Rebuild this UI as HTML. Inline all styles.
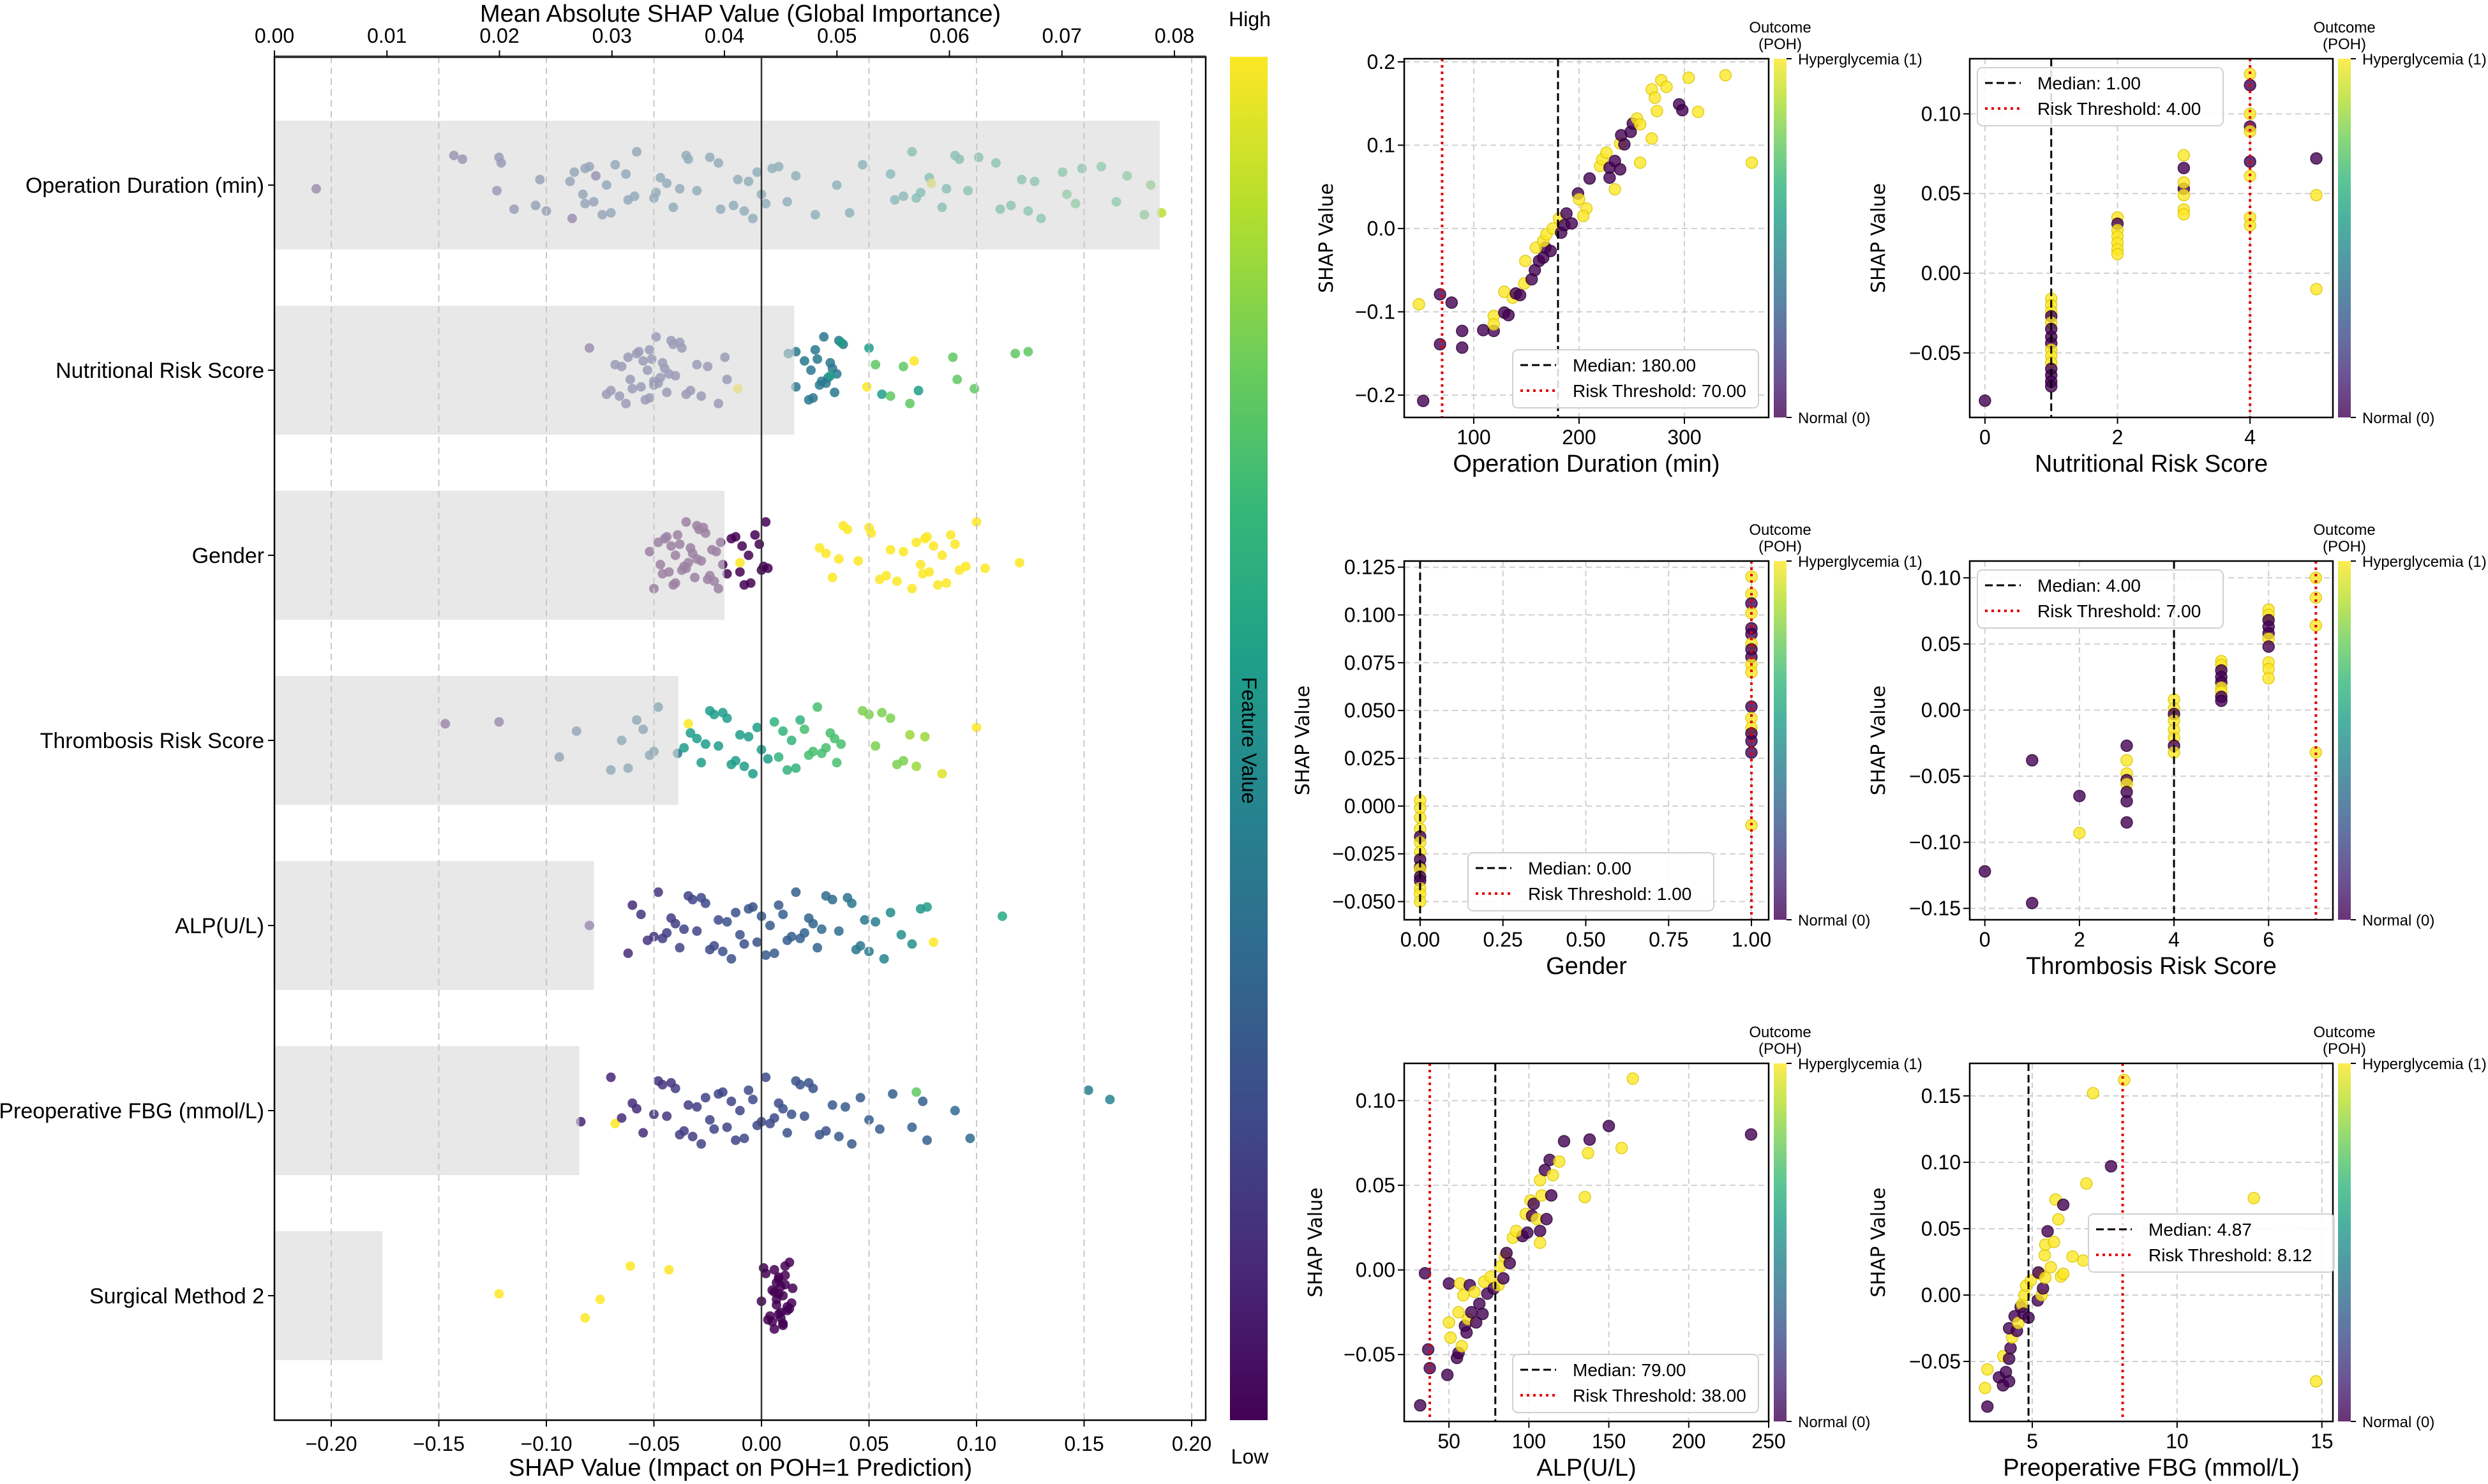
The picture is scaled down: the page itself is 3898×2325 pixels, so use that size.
<!DOCTYPE html>
<html><head><meta charset="utf-8">
<style>
html,body{margin:0;padding:0;background:#fff;}
svg{display:block;font-family:"Liberation Sans",Arial,sans-serif;}
</style></head>
<body>
<svg id="fig" width="3898" height="2325" viewBox="0 0 3898 2325" xmlns="http://www.w3.org/2000/svg">
<rect x="0" y="0" width="3898" height="2325" fill="#fff"/>
<g id="main"></g>
<g id="subs"></g>
</svg>
<script>
// ---------- MAIN CHART DATA ----------
const features = ["Operation Duration (min)","Nutritional Risk Score","Gender","Thrombosis Risk Score","ALP(U/L)","Preoperative FBG (mmol/L)","Surgical Method 2"];
const meanAbs = [0.0787,0.0462,0.0400,0.0359,0.0284,0.0271,0.0096];
const topTicks = [0.00,0.01,0.02,0.03,0.04,0.05,0.06,0.07,0.08];
const bottomTicks = [-0.20,-0.15,-0.10,-0.05,0.00,0.05,0.10,0.15,0.20];

const shap0 = [-0.207,-0.143,-0.139,-0.123,-0.122,-0.121,-0.115,-0.105,-0.103,-0.1,-0.089,-0.088,-0.087,-0.083,-0.082,-0.082,-0.08,-0.078,-0.077,-0.074,-0.072,-0.07,-0.068,-0.063,-0.062,-0.059,-0.058,-0.05,-0.049,-0.047,-0.044,-0.041,-0.038,-0.035,-0.034,-0.03,-0.024,-0.02,-0.019,-0.013,-0.011,-0.008,-0.006,-0.004,-0.002,0.0,0.002,0.005,0.008,0.012,0.016,0.025,0.035,0.041,0.047,0.06,0.062,0.066,0.07,0.072,0.074,0.078,0.079,0.084,0.086,0.09,0.092,0.096,0.101,0.109,0.111,0.116,0.121,0.124,0.127,0.13,0.14,0.142,0.146,0.149,0.158,0.165,0.17,0.178,0.181,0.186];
const fv0 = [0.1,0.15,0.15,0.2,0.2,0.2,0.22,0.25,0.25,0.25,0.28,0.1,0.3,0.3,0.3,0.3,0.3,0.3,0.12,0.3,0.32,0.32,0.32,0.32,0.32,0.33,0.33,0.33,0.35,0.35,0.35,0.35,0.35,0.35,0.36,0.36,0.36,0.36,0.36,0.37,0.38,0.38,0.38,0.38,0.38,0.4,0.4,0.4,0.4,0.42,0.42,0.42,0.45,0.45,0.45,0.5,0.5,0.5,0.55,0.55,0.55,0.55,0.95,0.55,0.55,0.55,0.55,0.6,0.6,0.6,0.6,0.6,0.62,0.62,0.62,0.62,0.65,0.7,0.7,0.65,0.68,0.68,0.7,0.72,0.75,0.9];

const shap1 = [-0.08,-0.072,-0.07,-0.068,-0.066,-0.065,-0.063,-0.062,-0.061,-0.06,-0.058,-0.057,-0.056,-0.055,-0.054,-0.053,-0.052,-0.052,-0.051,-0.05,-0.05,-0.049,-0.048,-0.047,-0.046,-0.045,-0.044,-0.043,-0.042,-0.041,-0.04,-0.038,-0.037,-0.035,-0.033,-0.03,-0.028,-0.025,-0.02,-0.017,-0.016,-0.011,0.0125,0.016,0.016,0.02,0.022,0.023,0.024,0.025,0.026,0.027,0.028,0.029,0.03,0.031,0.032,0.033,0.034,0.035,0.036,0.038,0.032,0.037,0.05,0.056,0.073,0.053,0.06,0.066,0.069,0.089,0.091,0.099,0.118,0.124,0.049,0.071];
const fv1 = [0.1,0.2,0.2,0.2,0.2,0.2,0.2,0.2,0.2,0.2,0.2,0.2,0.2,0.2,0.2,0.2,0.2,0.2,0.2,0.2,0.2,0.2,0.2,0.2,0.2,0.2,0.2,0.2,0.2,0.2,0.2,0.2,0.2,0.2,0.2,0.2,0.2,0.2,0.2,0.2,0.2,1.0,0.4,0.4,0.4,0.4,0.4,0.4,0.4,0.4,0.4,0.4,0.4,0.4,0.4,0.4,0.4,0.4,0.4,0.4,0.4,0.4,0.55,0.55,0.55,0.55,0.55,0.75,0.75,0.75,0.75,0.75,0.75,0.75,0.75,0.75,1.0,1.0];

const shap2 = [-0.052,-0.05,-0.048,-0.047,-0.046,-0.045,-0.044,-0.043,-0.042,-0.041,-0.04,-0.04,-0.039,-0.038,-0.037,-0.036,-0.035,-0.035,-0.034,-0.033,-0.032,-0.031,-0.03,-0.03,-0.029,-0.028,-0.027,-0.026,-0.025,-0.024,-0.023,-0.022,-0.021,-0.02,-0.019,-0.018,-0.016,-0.014,-0.012,-0.01,-0.009,-0.008,-0.006,-0.005,-0.003,-0.001,0.0,0.001,0.002,0.003,-0.01,0.027,0.03,0.033,0.036,0.038,0.04,0.045,0.05,0.051,0.055,0.058,0.06,0.063,0.066,0.07,0.072,0.074,0.075,0.076,0.077,0.078,0.08,0.082,0.084,0.086,0.088,0.09,0.092,0.095,0.1,0.104,0.12];
const fv2 = [0,0,0,0,0,0,0,0,0,0,0,0,0,0,0,0,0,0,0,0,0,0,0,0,0,0,0,0,0,0,0,0,0,0,0,0,0,0,0,0,0,0,0,0,0,0,0,0,0,0,1,1,1,1,1,1,1,1,1,1,1,1,1,1,1,1,1,1,1,1,1,1,1,1,1,1,1,1,1,1,1,1,1];

const shap3 = [-0.147,-0.122,-0.094,-0.086,-0.07,-0.065,-0.062,-0.058,-0.055,-0.052,-0.05,-0.048,-0.039,-0.036,-0.033,-0.03,-0.028,-0.026,-0.024,-0.022,-0.02,-0.018,-0.016,-0.014,-0.012,-0.01,-0.008,-0.006,-0.004,-0.002,0.0,0.003,-0.034,0.006,0.008,0.01,0.012,0.014,0.016,0.018,0.02,0.022,0.024,0.026,0.028,0.03,0.032,0.034,0.035,0.037,0.047,0.05,0.053,0.056,0.06,0.063,0.066,0.069,0.072,0.076,0.084,0.1];
const fv3 = [0.05,0.1,0.3,0.3,0.35,0.35,0.35,0.35,0.35,0.35,0.35,0.35,0.4,0.55,0.55,0.55,0.55,0.55,0.55,0.55,0.55,0.55,0.55,0.55,0.55,0.55,0.55,0.55,0.55,0.55,0.55,0.55,1.0,0.65,0.65,0.65,0.65,0.65,0.65,0.65,0.7,0.7,0.7,0.7,0.7,0.7,0.7,0.7,0.7,0.7,0.8,0.8,0.8,0.8,0.8,0.8,0.8,0.85,0.85,0.85,0.95,1.0];

const shap4 = [-0.08,-0.062,-0.06,-0.056,-0.053,-0.05,-0.048,-0.046,-0.044,-0.042,-0.04,-0.038,-0.036,-0.034,-0.032,-0.03,-0.028,-0.026,-0.024,-0.022,-0.02,-0.018,-0.016,-0.014,-0.012,-0.01,-0.008,-0.006,-0.004,-0.002,0.0,0.002,0.004,0.006,0.008,0.01,0.012,0.014,0.016,0.018,0.02,0.022,0.024,0.026,0.028,0.03,0.033,0.036,0.04,0.042,0.044,0.046,0.048,0.05,0.053,0.057,0.06,0.065,0.07,0.074,0.077,0.08,0.112];
const fv4 = [0.1,0.12,0.12,0.15,0.15,0.15,0.15,0.18,0.18,0.18,0.18,0.2,0.2,0.2,0.2,0.2,0.22,0.22,0.22,0.22,0.22,0.25,0.25,0.25,0.25,0.25,0.25,0.25,0.25,0.25,0.28,0.28,0.28,0.28,0.28,0.3,0.3,0.3,0.3,0.3,0.32,0.32,0.32,0.32,0.35,0.35,0.35,0.35,0.38,0.4,0.4,0.4,0.4,0.42,0.42,0.45,0.48,0.5,0.5,0.52,0.55,1.0,0.6];

const shap5 = [-0.084,-0.07,-0.068,-0.065,-0.06,-0.058,-0.055,-0.05,-0.048,-0.046,-0.044,-0.042,-0.04,-0.038,-0.036,-0.034,-0.032,-0.03,-0.028,-0.026,-0.024,-0.022,-0.02,-0.018,-0.016,-0.014,-0.012,-0.01,-0.008,-0.006,-0.004,-0.002,0.0,0.002,0.004,0.006,0.008,0.01,0.012,0.014,0.016,0.018,0.02,0.022,0.024,0.027,0.03,0.033,0.036,0.039,0.042,0.046,0.05,0.055,0.061,0.072,0.07,0.075,0.077,0.09,0.097,0.152,0.162];
const fv5 = [0.1,0.1,1.0,0.12,0.12,0.12,0.12,0.15,0.15,0.15,0.15,0.15,0.18,0.18,0.18,0.18,0.18,0.18,0.2,0.2,0.2,0.2,0.2,0.2,0.2,0.2,0.2,0.2,0.22,0.22,0.22,0.22,0.22,0.22,0.22,0.22,0.22,0.25,0.25,0.25,0.25,0.25,0.25,0.25,0.25,0.25,0.25,0.28,0.28,0.28,0.28,0.28,0.3,0.3,0.3,0.75,0.3,0.3,0.3,0.35,0.35,0.42,0.45];

const shap6 = [-0.122,-0.082,-0.075,-0.061,-0.043,0.0,0.001,0.002,0.003,0.004,0.005,0.005,0.006,0.006,0.007,0.007,0.008,0.008,0.008,0.009,0.009,0.01,0.01,0.01,0.011,0.011,0.012,0.012,0.013,0.013,0.014,0.0145,0.008,0.009,0.007,0.011,0.006];
const fv6 = [1,1,1,1,1,0,0,0,0,0,0,0,0,0,0,0,0,0,0,0,0,0,0,0,0,0,0,0,0,0,0,0,0,0,0,0,0];

const jitter = [0.1,-0.3,0.5,-0.6,0.2,0.8,-0.1,-0.8,0.4,-0.45,0.65,-0.2,0.0,0.9,-0.7,0.3,-0.5,0.55,-0.05,0.75,-0.35,0.15,-0.9,0.45,-0.15,0.6,-0.55,0.25,-0.75,0.35,-0.25,0.7];

// ---------- DEPENDENCE PLOT DATA ----------
const d1x=[48,52,68,68,79,89,89,109,119,119,119,129,133,129,137,140,144,148,149,155,158,162,166,168,159,166,169,173,175,181,183,186,188,193,199,200,207,204,210,220,222,226,229,229,234,234,239,239,243,240,249,251,255,258,258,269,269,272,274,278,283,295,298,304,313,339,364];
const d1y=[-0.091,-0.207,-0.079,-0.139,-0.089,-0.123,-0.143,-0.122,-0.123,-0.105,-0.115,-0.101,-0.104,-0.076,-0.083,-0.078,-0.080,-0.066,-0.039,-0.061,-0.05,-0.039,-0.035,-0.023,-0.023,-0.015,-0.007,-0.027,0.0,0.012,-0.005,0.004,0.018,0.006,0.042,0.035,0.024,0.015,0.060,0.075,0.083,0.091,0.073,0.061,0.081,0.047,0.071,0.102,0.101,0.112,0.116,0.126,0.132,0.079,0.125,0.108,0.167,0.157,0.141,0.178,0.17,0.149,0.142,0.181,0.14,0.184,0.079];
const d1c=[1,0,0,0,0,0,0,0,0,1,1,0,0,1,1,0,0,1,1,0,0,0,0,0,1,1,1,0,1,1,0,0,0,0,0,1,1,1,0,1,1,1,0,0,0,1,0,1,0,0,0,0,1,1,1,1,1,1,1,1,1,0,0,1,1,1,1];

const d2x=[0,1,1,1,1,1,1,1,1,1,1,1,1,1,1,1,2,2,2,2,2,2,2,3,3,3,3,3,3,3,4,4,4,4,4,4,4,4,4,5,5,5];
const d2y=[-0.08,-0.016,-0.02,-0.024,-0.027,-0.031,-0.035,-0.04,-0.044,-0.048,-0.052,-0.056,-0.06,-0.064,-0.068,-0.071,0.035,0.031,0.027,0.023,0.019,0.015,0.012,0.074,0.066,0.053,0.057,0.049,0.04,0.037,0.125,0.118,0.1,0.092,0.089,0.07,0.061,0.035,0.03,0.072,0.049,-0.01];
const d2c=[0,1,1,1,0,1,0,0,0,1,1,1,0,0,0,0,1,0,1,1,1,1,1,1,0,0,1,1,1,1,1,0,1,0,1,0,1,1,1,0,1,1];

const d3x=[1,1,1,1,1,1,1,1,1,1,1,1,1,1,1,1,1,1,0,0,0,0,0,0,0,0,0,0,0,0,0,0,0];
const d3y=[0.12,0.111,0.106,0.101,0.093,0.09,0.085,0.082,0.078,0.074,0.07,0.052,0.046,0.041,0.038,0.034,0.028,-0.01,0.003,-0.001,-0.006,-0.012,-0.016,-0.019,-0.024,-0.028,-0.032,-0.033,-0.037,-0.039,-0.043,-0.046,-0.05];
const d3c=[1,1,0,1,0,0,1,0,0,1,1,0,1,1,0,0,0,1,1,1,1,1,0,1,1,0,0,1,0,0,1,1,1];

const d4x=[0,1,1,2,2,3,3,3,3,3,3,3,3,4,4,4,4,4,4,4,4,5,5,5,5,5,5,5,5,5,6,6,6,6,6,6,6,6,6,6,7,7,7,7];
const d4y=[-0.122,-0.038,-0.146,-0.065,-0.093,-0.027,-0.038,-0.048,-0.053,-0.056,-0.062,-0.069,-0.085,0.008,0.001,-0.003,-0.008,-0.015,-0.021,-0.027,-0.032,0.037,0.034,0.03,0.025,0.021,0.017,0.014,0.01,0.007,0.076,0.072,0.068,0.063,0.058,0.054,0.048,0.036,0.031,0.024,0.1,0.085,0.064,-0.032];
const d4c=[0,0,0,0,1,0,1,1,0,1,0,0,0,1,1,0,1,1,1,0,1,1,1,0,0,0,1,1,0,0,1,1,0,0,0,1,0,1,1,1,1,1,1,1];

const d5x=[32,35,37,38,49,50,50,51,55,56,56,57,58,59,60,61,62,63,64,66,67,69,71,72,74,76,78,81,82,84,85,86,88,90,96,92,99,98,102,101,103,105,107,107,108,111,107,110,115,114,113,119,122,135,138,137,150,158,165,239];
const d5y=[-0.080,-0.002,-0.047,-0.058,-0.062,-0.008,-0.031,-0.040,-0.052,-0.049,-0.025,-0.008,-0.045,-0.015,-0.033,-0.037,-0.029,-0.009,-0.025,-0.013,-0.031,-0.020,-0.026,-0.007,-0.014,-0.004,-0.011,-0.009,0.002,-0.005,0.008,0.010,0.004,0.019,0.020,0.023,0.022,0.033,0.032,0.041,0.039,0.030,0.023,0.016,0.044,0.030,0.053,0.059,0.056,0.044,0.065,0.064,0.076,0.043,0.077,0.069,0.085,0.072,0.113,0.080];
const d5c=[0,0,0,0,0,0,1,1,0,0,1,1,1,1,0,0,1,0,0,1,0,0,0,1,0,1,0,1,1,0,1,0,0,1,0,1,0,1,0,1,0,1,0,1,1,0,1,0,1,0,0,1,0,1,0,1,0,1,1,0];

const d6x=[3.45,3.45,3.37,3.85,3.99,4.09,4.2,4.0,4.2,4.25,4.3,4.2,4.39,4.47,4.52,4.6,4.65,4.7,4.73,4.79,4.87,4.95,5.19,5.27,5.21,5.32,5.37,5.45,5.43,5.45,5.53,5.64,5.75,5.8,5.9,5.99,6.07,6.07,6.39,6.76,6.87,7.1,7.72,8.17,12.65,14.8];
const d6y=[-0.084,-0.056,-0.07,-0.062,-0.068,-0.058,-0.065,-0.046,-0.048,-0.04,-0.032,-0.025,-0.016,-0.027,-0.021,-0.009,-0.007,-0.014,0.0,0.007,-0.017,0.011,-0.004,0.016,0.017,0.0,0.005,0.013,0.03,0.038,0.048,0.021,0.04,0.072,0.057,0.014,0.068,0.016,0.029,0.026,0.084,0.152,0.097,0.162,0.073,-0.065];
const d6c=[0,1,1,0,0,0,0,1,0,0,1,0,0,0,1,0,1,0,1,1,0,1,0,1,0,1,0,1,1,1,0,1,1,1,1,1,0,1,1,1,1,1,0,1,1,1];

// ---------- HELPERS ----------
const NS="http://www.w3.org/2000/svg";
function mk(tag,attrs,parent,txt){const e=document.createElementNS(NS,tag);for(const k in attrs)e.setAttribute(k,attrs[k]);if(txt!==undefined)e.textContent=txt;parent.appendChild(e);return e;}
const VIR=[[68,1,84],[72,40,120],[62,74,137],[49,104,142],[38,130,142],[31,158,137],[53,183,121],[109,205,89],[180,222,44],[253,231,37]];
function viridis(t){t=Math.max(0,Math.min(1,t));const s=t*(VIR.length-1);const i=Math.min(VIR.length-2,Math.floor(s));const f=s-i;const a=VIR[i],b=VIR[i+1];return "rgb("+[0,1,2].map(k=>Math.round(a[k]+(b[k]-a[k])*f)).join(",")+")";}
function fmtMinus(s){return s.replace("-","\u2212");}

// ---------- MAIN CHART ----------
const main=document.getElementById('main');
const L=430,R=1889,T=89,B=2225;
const x0=1193, pxPerUnit=3370;
const sx=v=>x0+v*pxPerUnit;
const tx=v=>L+v*17625;
const rowY=i=>290+i*290;
const shapRows=[shap0,shap1,shap2,shap3,shap4,shap5,shap6];
const fvRows=[fv0,fv1,fv2,fv3,fv4,fv5,fv6];

const pts=mk('g',{},main);


shapRows.forEach((arr,ri)=>{
  arr.forEach((v,j)=>{
    const c=mk('circle',{cx:sx(v),cy:rowY(ri)+jitter[(j*7+ri*3)%jitter.length]*58,r:7.5,fill:viridis(fvRows[ri][j]),'fill-opacity':0.85},pts);
    
    
  });
});
const bars=mk('g',{},main);


meanAbs.forEach((v,i)=>{
  const b=mk('rect',{x:L,y:rowY(i)-101,width:tx(v)-L,height:202,fill:'rgb(217,217,217)','fill-opacity':0.6},bars);
  
  
});
bottomTicks.forEach(v=>{ if(v!==0) mk('line',{x1:sx(v),x2:sx(v),y1:T,y2:B,stroke:'#c8c8c8','stroke-width':2,'stroke-dasharray':'10,7'},main);});
const zl=mk('line',{x1:sx(0),x2:sx(0),y1:T,y2:B,stroke:'#333','stroke-width':2.5},main);


const frame=mk('rect',{x:L,y:T,width:R-L,height:B-T,fill:'none',stroke:'#000','stroke-width':2.5},main);


mk('line',{x1:L,x2:R,y1:T,y2:T,stroke:'#333','stroke-width':4},main);
bottomTicks.forEach(v=>{
  mk('line',{x1:sx(v),x2:sx(v),y1:B,y2:B+10,stroke:'#000','stroke-width':2},main);
  const t=mk('text',{x:sx(v),y:B+48,'font-size':32,'text-anchor':'middle'},main,fmtMinus(v.toFixed(2)));
  
  
});
topTicks.forEach(v=>{
  mk('line',{x1:tx(v),x2:tx(v),y1:T,y2:T-10,stroke:'#000','stroke-width':2},main);
  const t=mk('text',{x:tx(v),y:T-22,'font-size':32,'text-anchor':'middle'},main,v.toFixed(2));
  
  
});
features.forEach((f,i)=>{
  mk('line',{x1:L,x2:L-10,y1:rowY(i),y2:rowY(i),stroke:'#000','stroke-width':2},main);
  const t=mk('text',{x:L-16,y:rowY(i)+12,'font-size':34,'text-anchor':'end'},main,f);
  
  
});
let tt=mk('text',{x:1160,y:2312,'font-size':38,'text-anchor':'middle'},main,'SHAP Value (Impact on POH=1 Prediction)');


tt=mk('text',{x:1160,y:34,'font-size':38,'text-anchor':'middle'},main,'Mean Absolute SHAP Value (Global Importance)');


const defs=mk('defs',{},document.getElementById('fig'));
const g1=mk('linearGradient',{id:'vir',x1:0,y1:1,x2:0,y2:0},defs);
VIR.forEach((c,i)=>mk('stop',{offset:(i/(VIR.length-1)),'stop-color':'rgb('+c.join(',')+')'},g1));
const g2=mk('linearGradient',{id:'vir2',x1:0,y1:1,x2:0,y2:0},defs);
VIR.forEach((c,i)=>mk('stop',{offset:(i/(VIR.length-1)),'stop-color':'rgb('+c.join(',')+')','stop-opacity':0.8},g2));
const cb=mk('rect',{x:1927,y:T,width:59,height:B-T,fill:'url(#vir)'},main);


tt=mk('text',{x:1958,y:41,'font-size':32,'text-anchor':'middle'},main,'High');


tt=mk('text',{x:1958,y:2293,'font-size':32,'text-anchor':'middle'},main,'Low');


tt=mk('text',{x:1946,y:1160,'font-size':32,'text-anchor':'middle',transform:'rotate(90 1946 1160)'},main,'Feature Value');



// ---------- SUBPLOTS ----------
const subs=document.getElementById('subs');
const panels=[
 {name:'operation-duration',X:d1x,Y:d1y,C:d1c,l:2200,r:2771,t:92,b:654,xmin:34,xmax:380,ymin:-0.2268,ymax:0.2038,xt:[100,200,300],xd:0,yt:[-0.2,-0.1,0,0.1,0.2],yd:1,xl:'Operation Duration (min)',med:180,thr:70,medS:'180.00',thrS:'70.00',leg:[2370,548],ylx:2088},
 {name:'nutritional-risk',X:d2x,Y:d2y,C:d2c,l:3086,r:3655,t:92,b:654,xmin:-0.23,xmax:5.25,ymin:-0.0905,ymax:0.1346,xt:[0,2,4],xd:0,yt:[-0.05,0,0.05,0.1],yd:2,xl:'Nutritional Risk Score',med:1,thr:4,medS:'1.00',thrS:'4.00',leg:[3098,106],ylx:2953},
 {name:'gender',X:d3x,Y:d3y,C:d3c,l:2200,r:2771,t:879,b:1441,xmin:-0.048,xmax:1.052,ymin:-0.0595,ymax:0.1282,xt:[0,0.25,0.5,0.75,1],xd:2,yt:[-0.05,-0.025,0,0.025,0.05,0.075,0.1,0.125],yd:3,xl:'Gender',med:0,thr:1,medS:'0.00',thrS:'1.00',leg:[2300,1336],ylx:2051},
 {name:'thrombosis-risk',X:d4x,Y:d4y,C:d4c,l:3086,r:3655,t:879,b:1441,xmin:-0.32,xmax:7.36,ymin:-0.1586,ymax:0.1127,xt:[0,2,4,6],xd:0,yt:[-0.15,-0.1,-0.05,0,0.05,0.1],yd:2,xl:'Thrombosis Risk Score',med:4,thr:7,medS:'4.00',thrS:'7.00',leg:[3098,893],ylx:2953},
 {name:'alp',X:d5x,Y:d5y,C:d5c,l:2200,r:2771,t:1666,b:2227,xmin:22,xmax:250,ymin:-0.0895,ymax:0.122,xt:[50,100,150,200,250],xd:0,yt:[-0.05,0,0.05,0.1],yd:2,xl:'ALP(U/L)',med:79,thr:38,medS:'79.00',thrS:'38.00',leg:[2370,2122],ylx:2071},
 {name:'preoperative-fbg',X:d6x,Y:d6y,C:d6c,l:3086,r:3655,t:1666,b:2227,xmin:2.84,xmax:15.38,ymin:-0.0952,ymax:0.1745,xt:[5,10,15],xd:0,yt:[-0.05,0,0.05,0.1,0.15],yd:2,xl:'Preoperative FBG (mmol/L)',med:4.87,thr:8.12,medS:'4.87',thrS:'8.12',leg:[3272,1902],ylx:2953}
];
panels.forEach(p=>{
  const g=mk('g',{},subs);
  
  
  const px=v=>p.l+(v-p.xmin)/(p.xmax-p.xmin)*(p.r-p.l);
  const py=v=>p.b-(v-p.ymin)/(p.ymax-p.ymin)*(p.b-p.t);
  p.xt.forEach(v=>mk('line',{x1:px(v),x2:px(v),y1:p.t,y2:p.b,stroke:'#d0d0d0','stroke-width':2,'stroke-dasharray':'9,6'},g));
  p.yt.forEach(v=>mk('line',{x1:p.l,x2:p.r,y1:py(v),y2:py(v),stroke:'#d0d0d0','stroke-width':2,'stroke-dasharray':'9,6'},g));
  p.X.forEach((xv,i)=>{
    const yc=p.C[i]===1;
    const c=mk('circle',{cx:px(xv),cy:py(p.Y[i]),r:9,fill:yc?'#fde725':'#440154','fill-opacity':0.8,stroke:yc?'#d9c400':'#2a0035','stroke-width':1.5,'stroke-opacity':0.8},g);
    
    
  });
  const ml=mk('line',{x1:px(p.med),x2:px(p.med),y1:p.t,y2:p.b,stroke:'#000','stroke-width':3,'stroke-dasharray':'12,6'},g);
  
  
  const rl=mk('line',{x1:px(p.thr),x2:px(p.thr),y1:p.t,y2:p.b,stroke:'#e00000','stroke-width':4,'stroke-dasharray':'4,6'},g);
  
  
  const fr=mk('rect',{x:p.l,y:p.t,width:p.r-p.l,height:p.b-p.t,fill:'none',stroke:'#000','stroke-width':2.5},g);
  
  
  p.xt.forEach(v=>{
    mk('line',{x1:px(v),x2:px(v),y1:p.b,y2:p.b+10,stroke:'#000','stroke-width':2},g);
    const t=mk('text',{x:px(v),y:p.b+42,'font-size':32,'text-anchor':'middle'},g,v.toFixed(p.xd));
    
    
  });
  p.yt.forEach(v=>{
    mk('line',{x1:p.l,x2:p.l-10,y1:py(v),y2:py(v),stroke:'#000','stroke-width':2},g);
    const t=mk('text',{x:p.l-14,y:py(v)+11,'font-size':32,'text-anchor':'end'},g,fmtMinus(v.toFixed(p.yd)));
    
    
  });
  let t=mk('text',{x:(p.l+p.r)/2,y:p.b+85,'font-size':38,'text-anchor':'middle'},g,p.xl);
  
  
  const yc=(p.t+p.b)/2;
  t=mk('text',{x:p.ylx,y:yc,'font-size':30,'text-anchor':'middle','font-family':'DejaVu Sans, sans-serif',transform:'rotate(-90 '+p.ylx+' '+yc+')'},g,'SHAP Value');
  
  
  const cx=p.r+8;
  const cbr=mk('rect',{x:cx,y:p.t,width:20,height:p.b-p.t,fill:'url(#vir2)'},g);
  
  
  mk('line',{x1:cx+20,x2:cx+28,y1:p.t,y2:p.t,stroke:'#000','stroke-width':2},g);
  mk('line',{x1:cx+20,x2:cx+28,y1:p.b,y2:p.b,stroke:'#000','stroke-width':2},g);
  t=mk('text',{x:cx+38,y:p.t+9,'font-size':24},g,'Hyperglycemia (1)');
  
  
  t=mk('text',{x:cx+38,y:p.b+9,'font-size':24},g,'Normal (0)');
  
  
  t=mk('text',{x:cx+10,y:p.t-41,'font-size':24,'text-anchor':'middle'},g,'Outcome');
  
  
  t=mk('text',{x:cx+10,y:p.t-15,'font-size':24,'text-anchor':'middle'},g,'(POH)');
  
  
  const lx=p.leg[0],ly=p.leg[1];
  const lg=mk('g',{},g);
  
  
  mk('rect',{x:lx,y:ly,width:385,height:91,rx:8,fill:'#fff','fill-opacity':0.85,stroke:'#d0d0d0','stroke-width':2},lg);
  mk('line',{x1:lx+12,x2:lx+68,y1:ly+24,y2:ly+24,stroke:'#000','stroke-width':3,'stroke-dasharray':'12,6'},lg);
  mk('line',{x1:lx+12,x2:lx+68,y1:ly+64,y2:ly+64,stroke:'#e00000','stroke-width':4,'stroke-dasharray':'4,6'},lg);
  t=mk('text',{x:lx+94,y:ly+34,'font-size':28},lg,'Median: '+p.medS);
  
  
  t=mk('text',{x:lx+94,y:ly+74,'font-size':28},lg,'Risk Threshold: '+p.thrS);
  
  
});
</script>
</body></html>
